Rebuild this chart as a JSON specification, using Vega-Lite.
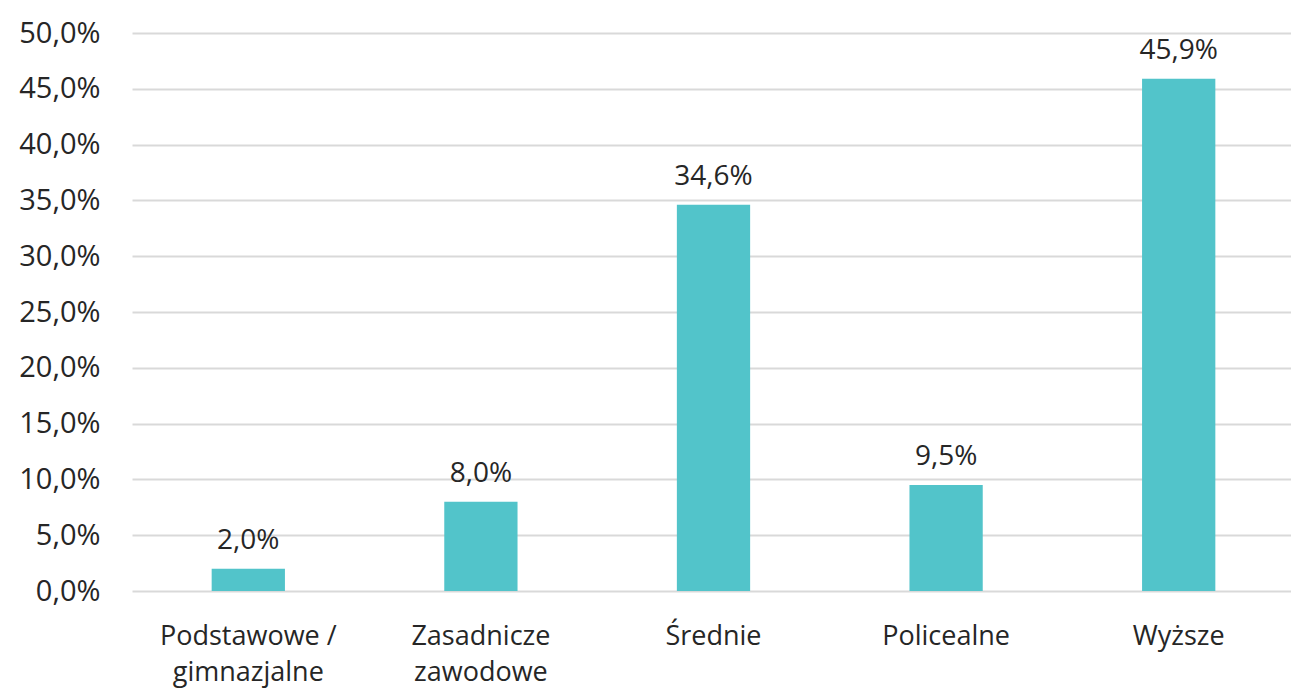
{
  "$schema": "https://vega.github.io/schema/vega-lite/v6.json",
  "autosize": "none",
  "width": 1163,
  "height": 558,
  "padding": {"left": 132, "top": 33, "right": 0, "bottom": 99},
  "background": "white",
  "config": {
    "view": {"stroke": null},
    "font": "Open Sans"
  },
  "data": {
    "values": [
      {"kategoria": "Podstawowe / gimnazjalne", "udzial": 0.020},
      {"kategoria": "Zasadnicze zawodowe", "udzial": 0.080},
      {"kategoria": "Średnie", "udzial": 0.346},
      {"kategoria": "Policealne", "udzial": 0.095},
      {"kategoria": "Wyższe", "udzial": 0.459}
    ]
  },
  "encoding": {
    "x": {
      "field": "kategoria",
      "type": "nominal",
      "sort": null,
      "scale": {"paddingInner": 0.685, "paddingOuter": 0.3425},
      "axis": {
        "title": null,
        "labelAngle": 0,
        "domain": false,
        "ticks": false,
        "labelFont": "Open Sans",
        "labelFontSize": 27,
        "labelColor": "#262626",
        "labelBaseline": "alphabetic",
        "labelPadding": 53,
        "labelLineHeight": 36,
        "labelLimit": 500,
        "labelExpr": "datum.label == 'Podstawowe / gimnazjalne' ? ['Podstawowe /', 'gimnazjalne'] : datum.label == 'Zasadnicze zawodowe' ? ['Zasadnicze', 'zawodowe'] : datum.label"
      }
    },
    "y": {
      "field": "udzial",
      "type": "quantitative",
      "scale": {"domain": [0, 0.5], "nice": false},
      "axis": {
        "title": null,
        "values": [0, 0.05, 0.1, 0.15, 0.2, 0.25, 0.3, 0.35, 0.4, 0.45, 0.5],
        "domain": false,
        "ticks": false,
        "grid": true,
        "gridColor": "#d9d9d9",
        "gridWidth": 2,
        "labelFont": "Open Sans",
        "labelFontSize": 29,
        "labelColor": "#262626",
        "labelPadding": 32,
        "labelExpr": "replace(format(datum.value, '.1%'), '.', ',')"
      }
    }
  },
  "layer": [
    {
      "mark": {"type": "bar", "color": "#52c4ca"}
    },
    {
      "mark": {"type": "text", "baseline": "alphabetic", "dy": -20, "fontSize": 28, "font": "Open Sans", "color": "#262626"},
      "encoding": {
        "text": {"field": "label", "type": "nominal"}
      },
      "transform": [
        {"calculate": "replace(format(datum.udzial, '.1%'), '.', ',')", "as": "label"}
      ]
    }
  ]
}
